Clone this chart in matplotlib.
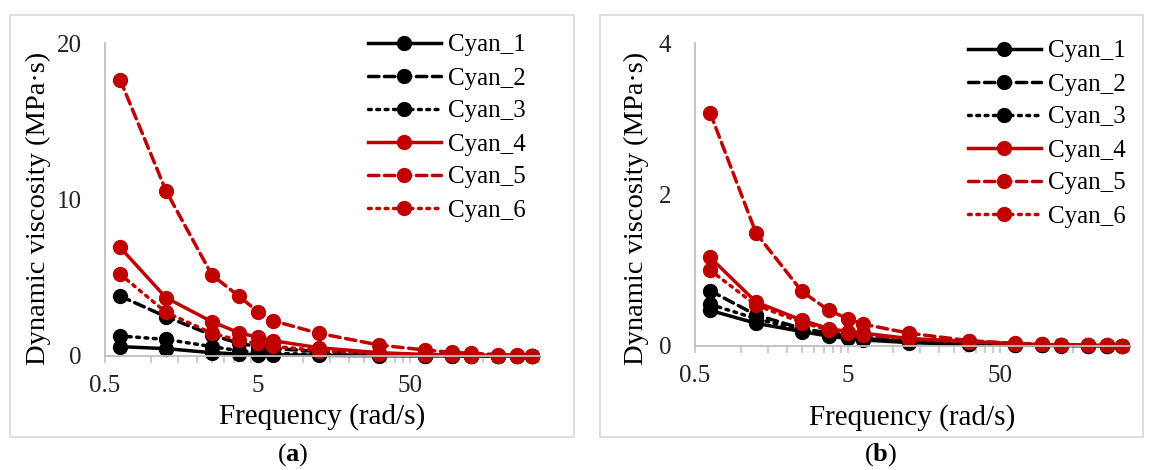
import matplotlib
matplotlib.use("Agg")
import matplotlib.pyplot as plt
from matplotlib.ticker import FixedLocator, FuncFormatter
from matplotlib.patches import Rectangle

# frequencies, rad/s (2*pi*f for f = 0.1 ... 50 Hz)
freq = [0.628, 1.257, 2.513, 3.770, 5.027, 6.283, 12.57, 31.42, 62.83, 94.25, 125.7, 188.5, 251.3, 314.2]

names = ["Cyan_1", "Cyan_2", "Cyan_3", "Cyan_4", "Cyan_5", "Cyan_6"]

# panel (a) dynamic viscosity, MPa*s
a_cyan1 = [0.60, 0.47, 0.21, 0.13, 0.09, 0.07, 0.04, 0.02, 0.01, 0.01, 0.005, 0.005, 0.004, 0.003]
a_cyan2 = [3.83, 2.51, 1.34, 0.81, 0.60, 0.49, 0.28, 0.11, 0.06, 0.04, 0.03, 0.02, 0.015, 0.01]
a_cyan3 = [1.28, 1.06, 0.60, 0.34, 0.23, 0.17, 0.10, 0.05, 0.03, 0.02, 0.015, 0.01, 0.008, 0.006]
a_cyan4 = [6.94, 3.72, 2.19, 1.49, 1.19, 0.98, 0.53, 0.21, 0.10, 0.07, 0.05, 0.03, 0.02, 0.01]
a_cyan5 = [17.66, 10.55, 5.17, 3.83, 2.83, 2.26, 1.45, 0.70, 0.38, 0.23, 0.17, 0.09, 0.05, 0.03]
a_cyan6 = [5.23, 2.79, 1.45, 1.00, 0.80, 0.62, 0.35, 0.13, 0.06, 0.04, 0.03, 0.02, 0.015, 0.01]

# panel (b)
b_cyan1 = [0.47, 0.30, 0.19, 0.13, 0.10, 0.08, 0.045, 0.02, 0.01, 0.008, 0.006, 0.004, 0.003, 0.002]
b_cyan2 = [0.73, 0.41, 0.23, 0.17, 0.13, 0.11, 0.07, 0.035, 0.02, 0.015, 0.01, 0.008, 0.006, 0.005]
b_cyan3 = [0.55, 0.36, 0.21, 0.15, 0.12, 0.10, 0.06, 0.03, 0.015, 0.01, 0.008, 0.006, 0.005, 0.004]
b_cyan4 = [1.17, 0.58, 0.34, 0.23, 0.19, 0.17, 0.10, 0.06, 0.03, 0.02, 0.015, 0.01, 0.008, 0.006]
b_cyan5 = [3.08, 1.49, 0.72, 0.47, 0.36, 0.29, 0.17, 0.07, 0.035, 0.02, 0.015, 0.01, 0.008, 0.006]
b_cyan6 = [1.00, 0.54, 0.31, 0.21, 0.17, 0.15, 0.09, 0.05, 0.03, 0.02, 0.015, 0.01, 0.008, 0.006]

a_series = [a_cyan1, a_cyan2, a_cyan3, a_cyan4, a_cyan5, a_cyan6]
b_series = [b_cyan1, b_cyan2, b_cyan3, b_cyan4, b_cyan5, b_cyan6]

black = "#000000"
red = "#C00000"
grey = "#BFBFBF"
colors = [black, black, black, red, red, red]
styles = ["-", (0, (3, 1.6)), (0, (0.8, 1.6)), "-", (0, (3, 1.6)), (0, (0.8, 1.6))]

plt.rcParams["font.family"] = ["Liberation Serif", "DejaVu Serif"]
plt.rcParams["mathtext.fontset"] = "custom"
plt.rcParams["mathtext.rm"] = "Liberation Serif"
plt.rcParams["mathtext.bf"] = "Liberation Serif:bold"

fig = plt.figure(figsize=(11.5, 4.7), dpi=100)
W, H = 1150.0, 470.0


def frac_box(x0, y0, x1, y1):
    # pixel box (top-left origin) -> figure fraction [l, b, w, h]
    return [x0 / W, 1 - y1 / H, (x1 - x0) / W, (y1 - y0) / H]


def draw_panel(box, series, ymax, ystep, leg_xy, xlab_y, ylab_xy):
    ax = fig.add_axes(box)
    for vals, name, c, ls in zip(series, names, colors, styles):
        ax.plot(freq, vals, color=c, linestyle=ls, lw=2.5, marker="o",
                markersize=10, label=name, dash_capstyle="round", clip_on=False)
    ax.set_xscale("log")
    ax.set_xlim(0.5, 350)
    ax.set_ylim(0, ymax)
    ax.xaxis.set_major_locator(FixedLocator([0.5, 5, 50]))
    minors = [d * k for d in [0.5, 5, 50] for k in range(1, 11) if d * k <= 350]
    ax.xaxis.set_minor_locator(FixedLocator(minors))
    ax.xaxis.set_major_formatter(FuncFormatter(lambda v, p: "%g" % v))
    ax.xaxis.set_minor_formatter(FuncFormatter(lambda v, p: ""))
    ax.set_yticks([0, ystep, ymax])
    ax.yaxis.set_major_formatter(FuncFormatter(lambda v, p: "%g" % v))

    for s in ["top", "right"]:
        ax.spines[s].set_visible(False)
    for s in ["left", "bottom"]:
        ax.spines[s].set_color(grey)
        ax.spines[s].set_linewidth(1.3)
    ax.tick_params(axis="x", which="both", direction="out", length=5,
                   width=1.1, color=grey, labelsize=18, pad=9, labelcolor="#222222")
    ax.tick_params(axis="y", length=0, labelsize=18, pad=17, labelcolor="#222222")

    ax.set_xlabel("Frequency (rad/s)", fontsize=21)
    ax.xaxis.set_label_coords(0.5, xlab_y)
    ax.set_ylabel("Dynamic viscosity (MPa\u00b7s)", fontsize=20.5)
    ax.yaxis.set_label_coords(*ylab_xy)

    ax.legend(loc="upper left", bbox_to_anchor=leg_xy, bbox_transform=fig.transFigure,
              frameon=False, fontsize=18, handlelength=2.9, handletextpad=0.3,
              labelspacing=0.42, borderpad=0, borderaxespad=0)
    return ax


draw_panel(frac_box(105, 43, 539, 356), a_series, 20, 10,
           (368 / W, 1 - 34 / H), -0.15, (-0.125, 0.473))
draw_panel(frac_box(695, 43, 1129, 346), b_series, 4, 2,
           (968 / W, 1 - 40 / H), -0.19, (-0.105, 0.455))

# panel frames
for x0, x1 in [(10, 574), (600, 1143)]:
    fig.add_artist(Rectangle((x0 / W, 1 - 437 / H), (x1 - x0) / W, 422 / H,
                             transform=fig.transFigure, fill=False,
                             edgecolor="#D9D9D9", lw=1.2))

fig.text(293 / W, 1 - 455 / H, r"($\mathbf{a}$)", ha="center", va="center", fontsize=19)
fig.text(881 / W, 1 - 455 / H, r"($\mathbf{b}$)", ha="center", va="center", fontsize=19)

fig.savefig("out.png", dpi=100)
